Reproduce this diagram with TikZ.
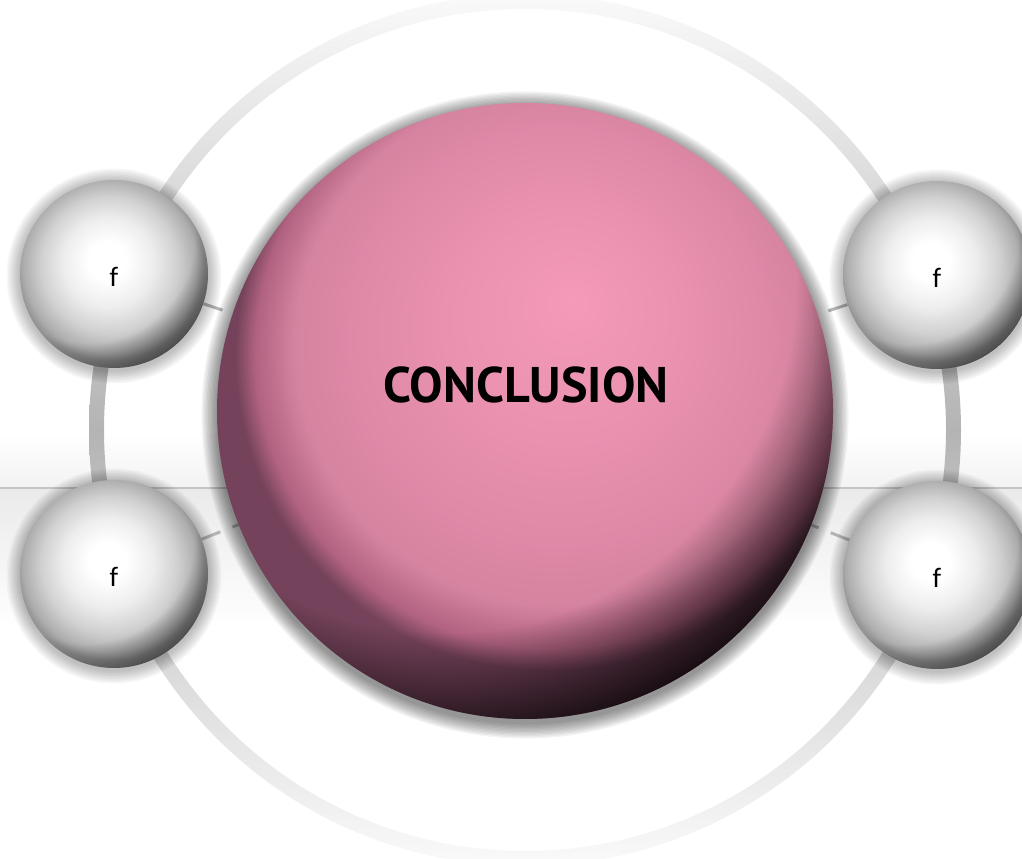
\documentclass[tikz,border=0pt]{standalone}
\usepackage{fontspec}
\usepackage{tikz}
\usetikzlibrary{
  positioning,
  fadings,
  backgrounds,
}
\newfontfamily\headFont{PT Sans}
\newfontfamily\ballFont{Carlito}

\definecolor{coreHi}{HTML}{F59AB9}
\definecolor{coreMid}{HTML}{E08AA8}
\definecolor{coreLow}{HTML}{B06280}
\definecolor{coreRim}{HTML}{74425A}
\definecolor{ringCol}{HTML}{B4B4B4}
\definecolor{dashCol}{HTML}{B4B4B4}
\definecolor{bandLine}{HTML}{C4C4C4}
\definecolor{bandCol}{HTML}{EAEAEA}

% the rim of a shaded circle sits at 25bp
\pgfdeclareradialshading{coreBall}{\pgfpoint{4bp}{9bp}}{%
  color(0bp)=(coreHi); color(8bp)=(coreHi!55!coreMid); color(16bp)=(coreMid);
  color(21bp)=(coreMid!95!black); color(24bp)=(coreLow); color(25.5bp)=(coreRim);
  color(50bp)=(coreRim)}
\pgfdeclareradialshading{pearlBall}{\pgfpoint{-2bp}{4bp}}{%
  color(0bp)=(white); color(5bp)=(white); color(12bp)=(black!7);
  color(18bp)=(black!18); color(23bp)=(black!32); color(25bp)=(black!42);
  color(50bp)=(black!42)}
\pgfdeclareradialshading{rimShade}{\pgfpointorigin}{%
  color(0bp)=(transparent!100); color(19bp)=(transparent!100);
  color(25bp)=(transparent!0); color(50bp)=(transparent!0)}
\pgfdeclarefading{rimFade}{\pgfuseshading{rimShade}}

\tikzset{
  core/.style={circle, inner sep=0pt, minimum size=123.2mm, shade, shading=coreBall},
  pearl/.style={circle, inner sep=0pt, minimum size=37.6mm, shade, shading=pearlBall},
  pearlText/.style={font=\ballFont\fontsize{16}{16}\selectfont},
  link/.style={draw=dashCol, line width=0.6mm, dash pattern=on 4mm off 2.6mm},
}

\begin{document}
\begin{tikzpicture}[x=0.2mm, y=0.2mm]
\useasboundingbox (0,0) rectangle (1022,859);

% main sphere and the four satellites
\node[core] (core) at (525,448) {};
\node[pearl] (pearlNW) at (114,585) {};
\node[pearl] (pearlSW) at (114,285) {};
\node[pearl] (pearlNE) at (937,584) {};
\node[pearl] (pearlSE) at (937,284) {};

% darker lower-right rim
\begin{scope}
  \clip (core.center) circle (308);
  \fill[black, fill opacity=0.8, path fading=rimFade]
    ([shift={(122:154)}]core.center) circle (462);
\end{scope}
\foreach \p in {pearlNW,pearlSW,pearlNE,pearlSE} {
  \begin{scope}
    \clip (\p.center) circle (94);
    \fill[black, fill opacity=0.5, path fading=rimFade]
      ([shift={(125:47)}]\p.center) circle (141);
  \end{scope}
  \node[pearlText] (\p-f) at ([yshift=-0.6mm]\p.center) {f};
}

\node[font=\headFont\bfseries\fontsize{28.5}{28.5}\selectfont] (title) at (526,474) {CONCLUSION};

\begin{scope}[on background layer]
  % horizon band
  \shade[top color=white, bottom color=bandCol!60] (0,371) rectangle (1022,425);
  \shade[top color=bandCol, bottom color=white] (0,230) rectangle (1022,371);
  \draw[bandLine, line width=0.3mm] (0,371) -- (1022,371);

  % outer ring
  \shade[even odd rule, top color=black!2, bottom color=black!2, middle color=ringCol]
    (525,429) circle (436) (525,429) circle (421);

  % dashed links
  \foreach \p in {pearlNW,pearlSW,pearlNE,pearlSE}
    \draw[link] (\p) -- (core);

  % soft shadows
  \foreach \k in {1,...,12}
    \fill[black, opacity=0.045] ([yshift=-0.8mm]core.center) circle (308+\k*1.3);
  \foreach \p in {pearlNW,pearlSW,pearlNE,pearlSE}
    \foreach \k in {1,...,9}
      \fill[black, opacity=0.03] ([yshift=-0.4mm]\p.center) circle (94+\k*1.5);
\end{scope}

\end{tikzpicture}
\end{document}
